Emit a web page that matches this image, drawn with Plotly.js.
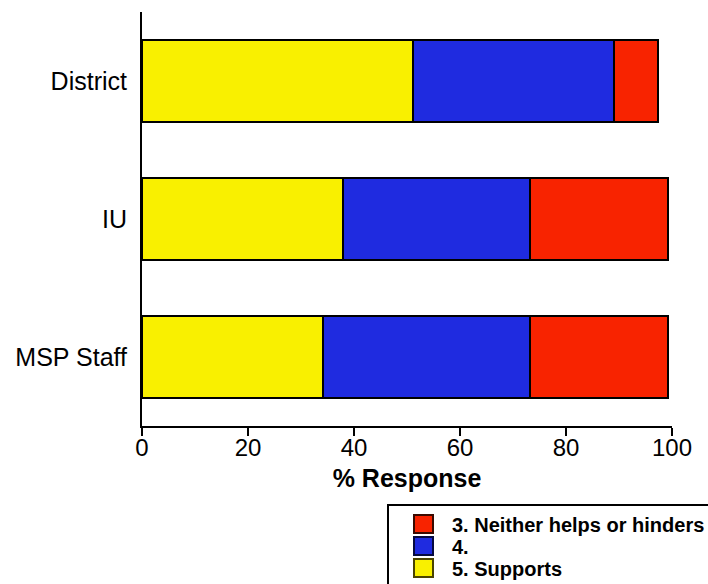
<!DOCTYPE html>
<html>
<head>
<meta charset="utf-8">
<script src="https://cdn.plot.ly/plotly-3.0.1.min.js"></script>
<style>html,body{margin:0;padding:0;background:#fff;}#chart{width:708px;height:584px;}</style>
</head>
<body>
<div id="chart"></div>
<script>
var categories = ["District", "IU", "MSP Staff"];
var supports = [51.1, 38.0, 34.2];
var four = [38.0, 35.3, 39.1];
var neither = [8.3, 25.9, 25.9];
var seriesNames = ["5. Supports", "4.", "3. Neither helps or hinders"];
var seriesColors = ["#F9F000", "#1F2BE0", "#F82300"];
var legendBorders = ["#4a4400", "#050a40", "#3a0a00"];
var xTicks = [0, 20, 40, 60, 80, 100];

var W = 708, H = 584, ML = 142, MR = 36, MT = 12, MB = 158;
var PW = W - ML - MR, PH = H - MT - MB;
function px(x) { return (x - ML) / PW; }
function py(y) { return (H - MB - y) / PH; }

var vals = [supports, four, neither];
var data = vals.map(function(v, i) {
  return {
    type: "bar", orientation: "h", y: categories, x: v, name: seriesNames[i],
    width: 0.6, showlegend: false,
    marker: {color: seriesColors[i], line: {color: "#000", width: 2}}
  };
});

var shapes = [{
  type: "rect", xref: "paper", yref: "paper",
  x0: px(388), x1: px(730), y0: py(505), y1: py(600),
  line: {color: "#000", width: 2}, fillcolor: "rgba(0,0,0,0)"
}];
var annotations = [];
var rowTops = [515, 537, 559];
for (var k = 0; k < 3; k++) {
  var si = 2 - k;
  var rowTop = rowTops[k];
  shapes.push({
    type: "rect", xref: "paper", yref: "paper",
    x0: px(414), x1: px(433), y0: py(rowTop), y1: py(rowTop + 18),
    line: {color: legendBorders[si], width: 2}, fillcolor: seriesColors[si]
  });
  annotations.push({
    xref: "paper", yref: "paper", x: px(450), y: py(rowTop + 10),
    xanchor: "left", yanchor: "middle", showarrow: false,
    text: "<b>" + seriesNames[si] + "</b>",
    font: {size: 20, family: "Liberation Sans, Arial, sans-serif", color: "#000"}
  });
}

var layout = {
  width: W, height: H,
  margin: {l: ML, r: MR, t: MT, b: MB, autoexpand: false},
  barmode: "stack",
  paper_bgcolor: "#fff", plot_bgcolor: "#fff",
  font: {family: "Liberation Sans, Arial, sans-serif", color: "#000", size: 25},
  xaxis: {
    range: [0, 100], tickvals: xTicks, ticktext: xTicks.map(String),
    showline: true, linecolor: "#000", linewidth: 2,
    ticks: "outside", ticklen: 8, tickwidth: 2, tickcolor: "#000",
    showgrid: false, zeroline: false,
    tickfont: {size: 24}, ticklabelstandoff: -9,
    title: {text: "<b>% Response</b>", font: {size: 25}, standoff: 10}
  },
  yaxis: {
    categoryorder: "array", categoryarray: categories.slice().reverse(),
    range: [-0.5, 2.5],
    showline: true, linecolor: "#000", linewidth: 2,
    ticks: "", showgrid: false, zeroline: false,
    tickfont: {size: 25}, ticklabelstandoff: 8
  },
  showlegend: false,
  shapes: shapes,
  annotations: annotations
};
Plotly.newPlot("chart", data, layout, {displayModeBar: false, staticPlot: true});
</script>
</body>
</html>
